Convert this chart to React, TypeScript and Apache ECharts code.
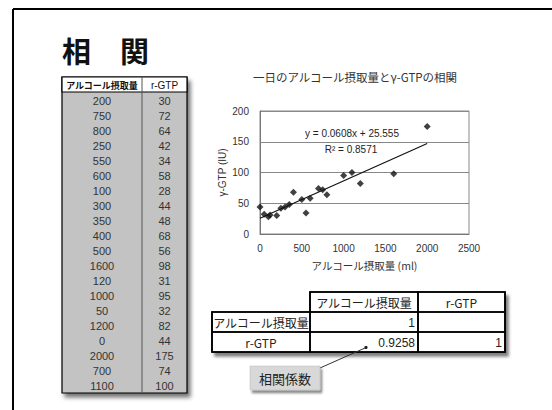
import React, { useEffect, useRef } from "react";
import * as echarts from "echarts";

// Daily alcohol intake (ml) and γ-GTP (IU) for each subject
const intakeMl = [200, 750, 800, 250, 550, 600, 100, 300, 350, 400, 500, 1600, 120, 1000, 50, 1200, 0, 2000, 700, 1100];
const gtpIU = [30, 72, 64, 42, 34, 58, 28, 44, 48, 68, 56, 98, 31, 95, 32, 82, 44, 175, 74, 100];
const dataHeaders = ["アルコール摂取量", "r-GTP"];

// Linear trend reported for the scatter
const trendSlope = 0.0608;
const trendIntercept = 25.555;
const rSquared = 0.8571;

// Correlation matrix
const corrLabels = ["アルコール摂取量", "r-GTP"];
const corrMatrix: (number | null)[][] = [
  [1, null],
  [0.9258, 1],
];

const pageTitle = "相　関";
const chartTitle = "一日のアルコール摂取量とγ-GTPの相関";
const xName = "アルコール摂取量 (ml)";
const yName = "γ-GTP (IU)";
const calloutText = "相関係数";

const JP = "'Noto Sans CJK JP', sans-serif";
const NUM = "'Liberation Sans', 'Noto Sans CJK JP', sans-serif";

export default function App() {
  const ref = useRef<HTMLDivElement>(null);

  useEffect(() => {
    if (!ref.current) return;
    const chart = echarts.init(ref.current, undefined, { renderer: "svg" });

    const graphics: any[] = [];

    // slide frame
    graphics.push({ type: "line", shape: { x1: 13, y1: 9, x2: 552, y2: 9 }, style: { stroke: "#000", lineWidth: 2 } });
    graphics.push({ type: "line", shape: { x1: 13, y1: 9, x2: 13, y2: 410 }, style: { stroke: "#000", lineWidth: 2 } });

    // heading
    graphics.push({
      type: "text", x: 62, y: 50,
      style: { text: pageTitle, font: `bold 29px ${JP}`, fill: "#111", textVerticalAlign: "middle" },
    });

    // source data table
    const tx = 62, ty = 77, tw = 125, hh = 15, rh = 15.05, split = 142;
    const th = hh + rh * intakeMl.length;
    graphics.push({
      type: "rect", shape: { x: tx, y: ty, width: tw, height: th },
      style: { fill: "#c3c3c3", stroke: "#000", lineWidth: 1.2, shadowBlur: 4, shadowOffsetX: 3, shadowOffsetY: 4, shadowColor: "rgba(0,0,0,0.55)" },
    });
    graphics.push({
      type: "rect", shape: { x: tx, y: ty, width: tw, height: hh },
      style: { fill: "#fff", stroke: "#000", lineWidth: 1.2 },
    });
    graphics.push({ type: "line", shape: { x1: split, y1: ty, x2: split, y2: ty + th }, style: { stroke: "#555", lineWidth: 1 } });
    graphics.push({
      type: "text", x: (tx + split) / 2, y: ty + hh / 2 + 0.5,
      style: { text: dataHeaders[0], font: `bold 9px ${JP}`, fill: "#111", textAlign: "center", textVerticalAlign: "middle" },
    });
    graphics.push({
      type: "text", x: (split + tx + tw) / 2, y: ty + hh / 2 + 0.5,
      style: { text: dataHeaders[1], font: `10px ${NUM}`, fill: "#111", textAlign: "center", textVerticalAlign: "middle" },
    });
    intakeMl.forEach((v, i) => {
      const cy = ty + hh + rh * i + rh / 2 + 1;
      graphics.push({
        type: "text", x: (tx + split) / 2, y: cy,
        style: { text: String(v), font: `11px ${NUM}`, fill: "#333", textAlign: "center", textVerticalAlign: "middle" },
      });
      graphics.push({
        type: "text", x: (split + tx + tw) / 2, y: cy,
        style: { text: String(gtpIU[i]), font: `11px ${NUM}`, fill: "#333", textAlign: "center", textVerticalAlign: "middle" },
      });
    });

    // chart title
    graphics.push({
      type: "text", x: 355, y: 77,
      style: { text: chartTitle, font: `11.5px ${JP}`, fill: "#333", textAlign: "center", textVerticalAlign: "middle" },
    });

    // regression annotation
    graphics.push({
      type: "text", x: 352, y: 133,
      style: { text: `y = ${trendSlope}x + ${trendIntercept}`, font: `10px ${NUM}`, fill: "#222", textAlign: "center", textVerticalAlign: "middle" },
    });
    graphics.push({
      type: "text", x: 351, y: 149,
      style: { text: `R² = ${rSquared}`, font: `10px ${NUM}`, fill: "#222", textAlign: "center", textVerticalAlign: "middle" },
    });

    // correlation table
    const cLabelX = 212, cCol1 = 310, cCol2 = 418, cRight = 505;
    const cTop = 292, cRow = 20;
    const colX = [cCol1, cCol2, cRight];
    graphics.push({
      type: "polygon",
      shape: { points: [[cCol1, cTop], [cRight, cTop], [cRight, cTop + cRow * 3], [cLabelX, cTop + cRow * 3], [cLabelX, cTop + cRow], [cCol1, cTop + cRow]] },
      style: { fill: "#fff", stroke: "#000", lineWidth: 1.6, shadowBlur: 3, shadowOffsetX: 3, shadowOffsetY: 4, shadowColor: "rgba(0,0,0,0.5)" },
    });
    // header cells
    corrLabels.forEach((lab, j) => {
      graphics.push({
        type: "rect", shape: { x: colX[j], y: cTop, width: colX[j + 1] - colX[j], height: cRow },
        style: { fill: "none", stroke: "#000", lineWidth: 1.6 },
      });
      graphics.push({
        type: "text", x: (colX[j] + colX[j + 1]) / 2, y: cTop + cRow / 2 + 0.5,
        style: { text: lab, font: `12px ${JP}`, fill: "#222", textAlign: "center", textVerticalAlign: "middle" },
      });
    });
    // body rows
    corrLabels.forEach((lab, i) => {
      const y = cTop + cRow * (i + 1);
      graphics.push({
        type: "rect", shape: { x: cLabelX, y, width: cCol1 - cLabelX, height: cRow },
        style: { fill: "none", stroke: "#000", lineWidth: 1.6 },
      });
      graphics.push({
        type: "text", x: (cLabelX + cCol1) / 2, y: y + cRow / 2 + 0.5,
        style: { text: lab, font: `12px ${JP}`, fill: "#222", textAlign: "center", textVerticalAlign: "middle" },
      });
      corrMatrix[i].forEach((val, j) => {
        graphics.push({
          type: "rect", shape: { x: colX[j], y, width: colX[j + 1] - colX[j], height: cRow },
          style: { fill: "none", stroke: "#000", lineWidth: 1.6 },
        });
        if (val !== null) {
          graphics.push({
            type: "text", x: colX[j + 1] - 3, y: y + cRow / 2 + 0.5,
            style: { text: String(val), font: `12px ${NUM}`, fill: "#222", textAlign: "right", textVerticalAlign: "middle" },
          });
        }
      });
    });

    // callout
    graphics.push({ type: "line", shape: { x1: 320, y1: 368, x2: 365, y2: 348 }, style: { stroke: "#333", lineWidth: 1 } });
    graphics.push({ type: "circle", shape: { cx: 366, cy: 347.5, r: 1.6 }, style: { fill: "#222" } });
    graphics.push({
      type: "rect", shape: { x: 250, y: 366, width: 70, height: 24 },
      style: { fill: "#d8d8d8", stroke: "#bbb", lineWidth: 0.5, shadowBlur: 2, shadowOffsetX: 2, shadowOffsetY: 3, shadowColor: "rgba(0,0,0,0.45)" },
    });
    graphics.push({
      type: "text", x: 285, y: 378.5,
      style: { text: calloutText, font: `13px ${JP}`, fill: "#222", textAlign: "center", textVerticalAlign: "middle" },
    });

    const points = intakeMl.map((x, i) => [x, gtpIU[i]]);
    const xMin = Math.min(...intakeMl);
    const xMax = Math.max(...intakeMl);
    const trend = [
      [xMin, trendIntercept + trendSlope * xMin],
      [xMax, trendIntercept + trendSlope * xMax],
    ];

    const axisLabel = { fontFamily: NUM, fontSize: 10, color: "#333", formatter: (v: number) => String(v) };

    chart.setOption({
      animation: false,
      backgroundColor: "#fff",
      grid: { left: 260, top: 111, width: 209, height: 123, show: true, borderColor: "#888", borderWidth: 1, backgroundColor: "#fff" },
      xAxis: {
        type: "value", min: 0, max: 2500, interval: 500,
        name: xName, nameLocation: "middle", nameGap: 26,
        nameTextStyle: { fontFamily: JP, fontSize: 10.5, color: "#333" },
        axisLine: { show: true, lineStyle: { color: "#777" } },
        axisTick: { show: false },
        axisLabel: { ...axisLabel, margin: 9 },
        splitLine: { show: false },
      },
      yAxis: {
        type: "value", min: 0, max: 200, interval: 50,
        name: yName, nameLocation: "middle", nameGap: 33, nameRotate: 90,
        nameTextStyle: { fontFamily: NUM, fontSize: 10, color: "#333" },
        axisLine: { show: true, lineStyle: { color: "#777" } },
        axisTick: { show: false },
        axisLabel: { ...axisLabel, margin: 11 },
        splitLine: { show: true, lineStyle: { color: "#888", width: 1 } },
      },
      series: [
        {
          type: "line", data: trend, symbol: "none",
          lineStyle: { color: "#111", width: 1.2 }, z: 2,
        },
        {
          type: "scatter", data: points, symbol: "diamond", symbolSize: 7,
          itemStyle: { color: "#111" }, z: 3,
        },
      ],
      graphic: { elements: graphics },
    });

    return () => chart.dispose();
  }, []);

  return (
    <div
      ref={ref}
      style={{ position: "fixed", left: 0, top: 0, width: 552, height: 410, background: "#fff" }}
    />
  );
}
